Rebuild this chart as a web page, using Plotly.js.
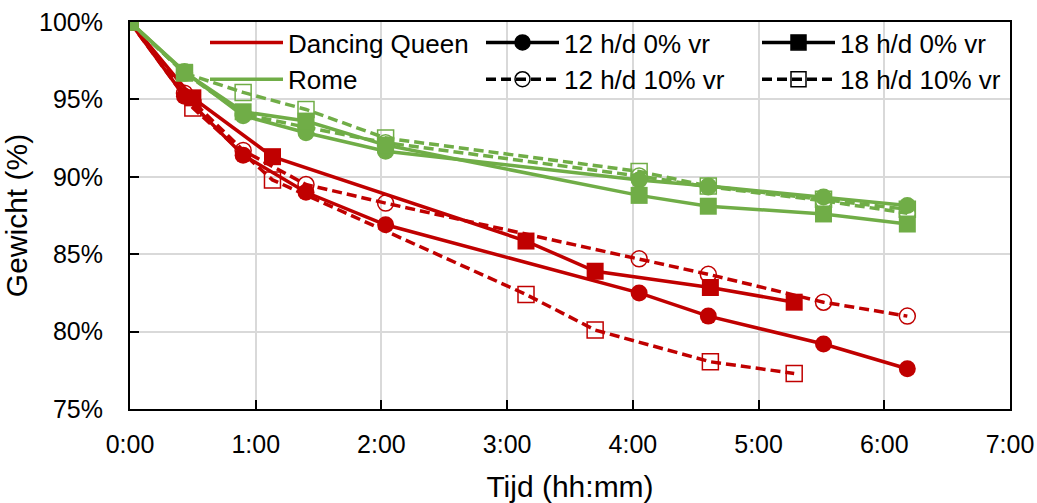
<!DOCTYPE html>
<html>
<head>
<meta charset="utf-8">
<script src="https://cdn.plot.ly/plotly-3.0.1.min.js"></script>
<style>html,body{margin:0;padding:0;background:#fff;}#chart{width:1037px;height:503px;}</style>
</head>
<body>
<div id="chart"></div>
<script>
// Time in minutes since start
var timesA = [0, 26, 54, 84, 122, 243, 276, 331, 371];     // 12 h/d series & Rome
var timesB = [0, 30, 68, 189, 222, 277, 317];               // Dancing Queen 18 h/d
var tickVals = [0, 60, 120, 180, 240, 300, 360, 420];
var tickText = ["0:00", "1:00", "2:00", "3:00", "4:00", "5:00", "6:00", "7:00"];

// Weight (%)
var dq12_0  = [100, 95.2, 91.4, 89.0, 86.9, 82.5, 81.0, 79.2, 77.6];
var dq12_10 = [100, 95.4, 91.7, 89.5, 88.3, 84.7, 83.7, 81.9, 81.0];
var dq18_0  = [100, 95.1, 91.3, 85.85, 83.9, 82.85, 81.9];
var dq18_10 = [100, 94.45, 89.8, 82.4, 80.1, 78.05, 77.3];
var rome12_0  = [100, 96.8, 93.95, 92.85, 91.65, 89.8, 89.4, 88.7, 88.15];
var rome12_10 = [100, 96.7, 94.05, 93.2, 92.2, 90.05, 89.35, 88.45, 87.65];
var rome18_0  = [100, 96.75, 94.2, 93.6, 92.05, 88.8, 88.1, 87.6, 86.95];
var rome18_10 = [100, 96.7, 95.45, 94.35, 92.5, 90.35, 89.4, 88.55, 87.9];

var RED = '#C00000', GREEN = '#70AD47';
var DASH = '10px,5px';

function series(x, y, color, dashed, symbol) {
  var open = symbol.indexOf('open') >= 0;
  return {
    x: x, y: y, type: 'scatter', mode: 'lines+markers', showlegend: false,
    hoverinfo: 'skip',
    line: {color: color, width: 3.5, dash: dashed ? DASH : 'solid'},
    marker: {symbol: symbol, size: open ? 16 : 17, color: color,
             line: {color: color, width: open ? 1.5 : 0}}
  };
}
function legendItem(name, color, dashed, symbol) {
  var t = {x: [null], y: [null], type: 'scatter', name: name, showlegend: true,
    mode: symbol ? 'lines+markers' : 'lines',
    line: {color: color, width: 3.5, dash: dashed ? DASH : 'solid'}};
  if (symbol) t.marker = {symbol: symbol, size: 15, color: color, line: {color: color, width: 1.5}};
  return t;
}

var data = [
  series(timesA, dq12_10, RED, true, 'circle-open'),
  series(timesB, dq18_10, RED, true, 'square-open'),
  series(timesA, dq12_0, RED, false, 'circle'),
  series(timesB, dq18_0, RED, false, 'square'),
  series(timesA, rome12_10, GREEN, true, 'circle-open'),
  series(timesA, rome18_10, GREEN, true, 'square-open'),
  series(timesA, rome12_0, GREEN, false, 'circle'),
  series(timesA, rome18_0, GREEN, false, 'square'),
  legendItem('Dancing Queen', RED, false, null),
  legendItem('12 h/d 0% vr', '#000', false, 'circle'),
  legendItem('18 h/d 0% vr', '#000', false, 'square'),
  legendItem('Rome', GREEN, false, null),
  legendItem('12 h/d 10% vr', '#000', true, 'circle-open'),
  legendItem('18 h/d 10% vr', '#000', true, 'square-open')
];

var axisCommon = {
  showgrid: true, gridcolor: '#d9d9d9', gridwidth: 2,
  showline: true, linecolor: '#000', linewidth: 2, mirror: true,
  ticks: 'inside', ticklen: 9, tickwidth: 2, tickcolor: '#000',
  zeroline: false, fixedrange: true
};

var layout = {
  width: 1037, height: 503,
  margin: {l: 130, r: 27, t: 22, b: 94, pad: 0, autoexpand: false},
  paper_bgcolor: '#fff', plot_bgcolor: '#fff',
  font: {family: '"Liberation Sans", Arial, sans-serif', size: 25, color: '#000'},
  xaxis: Object.assign({}, axisCommon, {
    range: [0, 420], tickmode: 'array', tickvals: tickVals, ticktext: tickText,
    ticklabelstandoff: 12,
    title: {text: 'Tijd (hh:mm)', standoff: 28}
  }),
  yaxis: Object.assign({}, axisCommon, {
    range: [75, 100], tickmode: 'linear', tick0: 75, dtick: 5, ticksuffix: '%',
    ticklabelstandoff: 20,
    title: {text: 'Gewicht (%)', standoff: 11}
  }),
  legend: {
    orientation: 'h', xref: 'container', yref: 'container',
    x: 205 / 1037, y: 1 - 19 / 503, xanchor: 'left', yanchor: 'top',
    bgcolor: 'rgba(0,0,0,0)', borderwidth: 0,
    entrywidth: 188, entrywidthmode: 'pixels', itemwidth: 73,
    traceorder: 'normal', tracegroupgap: 0,
    font: {size: 26}
  },
  showlegend: true
};

Plotly.newPlot('chart', data, layout, {displayModeBar: false, staticPlot: true});
</script>
</body>
</html>
